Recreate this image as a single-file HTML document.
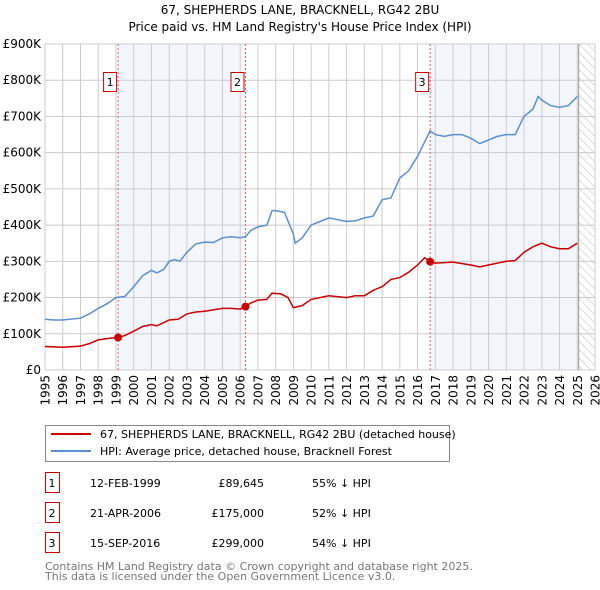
<!DOCTYPE html>
<html><head><meta charset="utf-8"><style>
body{margin:0;background:#fff}
svg{display:block;font-family:"DejaVu Sans","Liberation Sans",sans-serif}
</style></head><body>
<svg id="c" width="600" height="590" viewBox="0 0 600 590">
<defs><pattern id="hatch" width="6" height="6" patternUnits="userSpaceOnUse" patternTransform="rotate(-45)"><line x1="0" y1="0" x2="0" y2="6" stroke="#bbb" stroke-width="1"/></pattern></defs>
<text x="300" y="14" text-anchor="middle" font-size="12">67, SHEPHERDS LANE, BRACKNELL, RG42 2BU</text>
<text x="300" y="31" text-anchor="middle" font-size="12">Price paid vs. HM Land Registry's House Price Index (HPI)</text>
<g id="shade"></g><g id="grid"></g><g id="axes"></g><g id="lines"></g><g id="marks"></g>
<g>
<rect x="45.5" y="425.5" width="404" height="36" fill="#fff" stroke="#888"/>
<line x1="51" y1="434" x2="91" y2="434" stroke="#cc0000" stroke-width="2"/>
<text x="100" y="438" font-size="11">67, SHEPHERDS LANE, BRACKNELL, RG42 2BU (detached house)</text>
<line x1="51" y1="451" x2="91" y2="451" stroke="#5b8fd0" stroke-width="2"/>
<text x="100" y="455" font-size="11">HPI: Average price, detached house, Bracknell Forest</text>
</g>
<g id="table" font-size="11"></g>
<text x="45" y="570" font-size="11" fill="#777">Contains HM Land Registry data © Crown copyright and database right 2025.</text>
<text x="45" y="580" font-size="11" fill="#777">This data is licensed under the Open Government Licence v3.0.</text>
</svg>
<script>
const hpiYears=[1995,1995.5,1996,1997,1997.5,1998,1998.5,1999,1999.5,2000,2000.5,2001,2001.3,2001.7,2002,2002.3,2002.6,2003,2003.5,2004,2004.5,2005,2005.5,2006,2006.3,2006.6,2007,2007.5,2007.8,2008,2008.5,2009,2009.1,2009.5,2010,2010.5,2011,2011.5,2012,2012.5,2013,2013.5,2014,2014.5,2015,2015.5,2016,2016.5,2016.7,2017,2017.5,2018,2018.5,2019,2019.5,2020,2020.5,2021,2021.5,2022,2022.5,2022.8,2023,2023.5,2024,2024.5,2025];
const hpiValues=[140,138,138,143,155,170,183,200,203,230,260,275,268,278,300,305,300,325,348,353,352,365,368,365,368,385,395,400,440,440,435,375,350,365,400,410,420,415,410,412,420,425,470,475,530,550,590,640,660,650,645,650,650,640,625,635,645,650,650,700,720,755,745,730,725,730,755];
const pYears=[1995,1996,1997,1997.5,1998,1998.7,1999.1,1999.5,2000,2000.5,2001,2001.3,2002,2002.5,2003,2003.5,2004,2005,2005.5,2006,2006.3,2006.6,2007,2007.5,2007.8,2008.3,2008.7,2009,2009.5,2010,2010.5,2011,2012,2012.5,2013,2013.5,2014,2014.5,2015,2015.5,2016,2016.4,2016.7,2017,2018,2019,2019.5,2020,2021,2021.5,2022,2022.5,2023,2023.5,2024,2024.5,2025];
const pValues=[65,63,66,73,83,88,89.6,95,107,120,125,122,138,140,155,160,162,170,170,168,175,185,193,195,212,210,200,172,178,195,200,205,200,205,205,220,230,250,255,270,290,310,299,295,298,290,285,290,300,302,325,340,350,340,335,335,350];
const saleYears=[1999.12,2006.3,2016.71];
const saleValues=[89.645,175,299];
const saleLabels=["1","2","3"];
const saleDates=["12-FEB-1999","21-APR-2006","15-SEP-2016"];
const salePrices=["£89,645","£175,000","£299,000"];
const saleDiffs=["55% ↓ HPI","52% ↓ HPI","54% ↓ HPI"];
const yTicks=[0,100,200,300,400,500,600,700,800,900];
const yTickLabels=["£0","£100K","£200K","£300K","£400K","£500K","£600K","£700K","£800K","£900K"];
const xStart=1995,xEnd=2026,dataEnd=2025.08;

const NS="http://www.w3.org/2000/svg";
const X0=45,X1=595,Y0=370,Y1=44;
const sx=v=>X0+(v-xStart)/(xEnd-xStart)*(X1-X0);
const sy=v=>Y0-v/900*(Y0-Y1);
function mk(parent,tag,attrs){const e=document.createElementNS(NS,tag);for(const k in attrs)e.setAttribute(k,attrs[k]);document.getElementById(parent).appendChild(e);return e;}

let e=mk('shade','rect',{x:X0,y:Y1,width:X1-X0,height:Y0-Y1,fill:'#fff'});


e=mk('shade','rect',{x:sx(saleYears[0]),y:Y1,width:sx(saleYears[1])-sx(saleYears[0]),height:Y0-Y1,fill:'#f3f6fd'});


e=mk('shade','rect',{x:sx(saleYears[2]),y:Y1,width:sx(dataEnd)-sx(saleYears[2]),height:Y0-Y1,fill:'#f3f6fd'});


e=mk('shade','rect',{x:sx(dataEnd),y:Y1,width:X1-sx(dataEnd),height:Y0-Y1,fill:'url(#hatch)'});



for(let y=xStart;y<=xEnd;y++){
 e=mk('grid','line',{x1:sx(y),x2:sx(y),y1:Y1,y2:Y0,stroke:'#ccc','stroke-width':1});
 
 
 const t=mk('axes','text',{x:0,y:0,'font-size':12,'text-anchor':'end',transform:`translate(${sx(y)+4.5},375) rotate(-90)`});
 t.textContent=y;
 
 
}
yTicks.forEach((v,i)=>{
 e=mk('grid','line',{x1:X0,x2:X1,y1:sy(v),y2:sy(v),stroke:'#ccc','stroke-width':1});
 
 
 const t=mk('axes','text',{x:41,y:sy(v)+4,'font-size':12,'text-anchor':'end'});
 t.textContent=yTickLabels[i];
 
 
});
e=mk('grid','line',{x1:sx(dataEnd),x2:sx(dataEnd),y1:Y1,y2:Y0,stroke:'#999','stroke-width':1});



saleYears.forEach((y,i)=>{
 e=mk('grid','line',{x1:sx(y),x2:sx(y),y1:Y1,y2:Y0,stroke:'#e06060','stroke-width':1,'stroke-dasharray':'2,2'});
 
 
 const bx=sx(y)-14;
 e=mk('marks','rect',{x:bx-0.5,y:72.5,width:13,height:19,fill:'#fff',stroke:'#cc0000'});
 
 
 const t=mk('marks','text',{x:bx+6,y:86,'font-size':11,'text-anchor':'middle'});
 t.textContent=saleLabels[i];
 
 
 e=mk('marks','circle',{cx:sx(y),cy:sy(saleValues[i]),r:4,fill:'#cc0000'});
 
 
});

function path(xs,vs){return xs.map((x,i)=>(i?'L':'M')+sx(x).toFixed(1)+','+sy(vs[i]).toFixed(1)).join('');}
e=mk('lines','path',{d:path(hpiYears,hpiValues),fill:'none',stroke:'#5b8fd0','stroke-width':1.5});


e=mk('lines','path',{d:path(pYears,pValues),fill:'none',stroke:'#cc0000','stroke-width':1.5});


document.getElementById('lines').parentNode.appendChild(document.getElementById('marks'));

saleLabels.forEach((l,i)=>{
 const cy=483+i*30;
 e=mk('table','rect',{x:45.5,y:cy-10.5,width:14,height:20,fill:'#fff',stroke:'#cc0000'});
 
 
 const cells=[[52,l,'middle'],[90,saleDates[i],'start'],[264,salePrices[i],'end'],[312,saleDiffs[i],'start']];
 cells.forEach(c=>{const t=mk('table','text',{x:c[0],y:cy+4,'text-anchor':c[2]});t.textContent=c[1];
 
 });
});
</script>
</body></html>
